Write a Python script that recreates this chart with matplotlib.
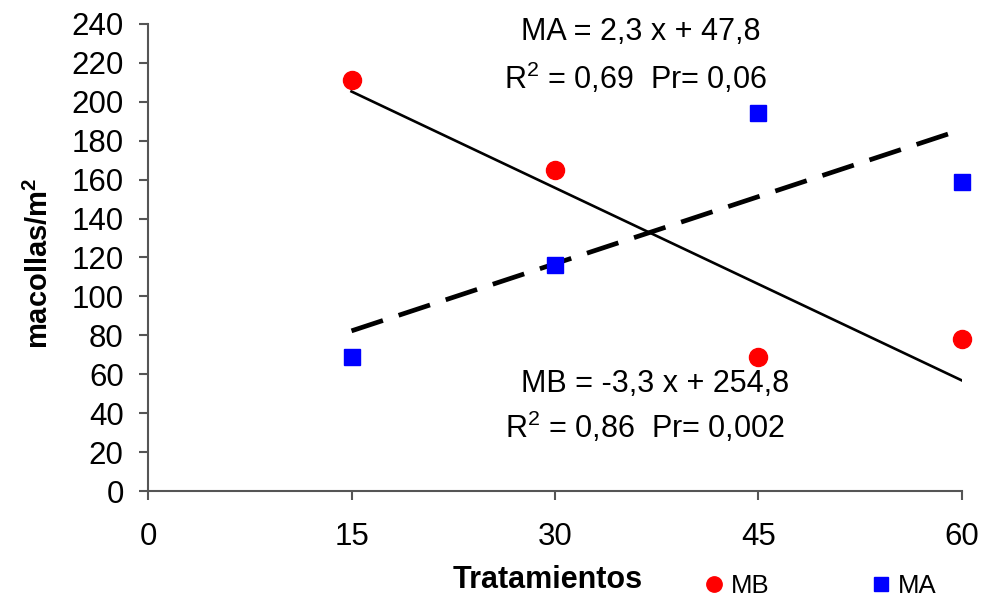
import numpy as np
import matplotlib
matplotlib.use("Agg")
import matplotlib.pyplot as plt

plt.rcParams['font.family'] = ['Liberation Sans', 'DejaVu Sans']
plt.rcParams['mathtext.fontset'] = 'custom'
plt.rcParams['mathtext.rm'] = 'Liberation Sans'
plt.rcParams['mathtext.bf'] = 'Liberation Sans:bold'

# datos
tratamientos = [15, 30, 45, 60]
mb = [211, 165, 69, 78]
ma = [69, 116, 194, 159]

# rectas de regresion (pendiente, ordenada)
mb_coef = (-3.3, 254.8)
ma_coef = (2.3, 47.8)

xticks = [0, 15, 30, 45, 60]
yticks = list(range(0, 241, 20))

fig = plt.figure(figsize=(9.83, 5.98), dpi=100)
ax = fig.add_axes([0.1506, 0.1789, 0.828, 0.781])

x = np.array(tratamientos)
ax.plot(x, mb_coef[0] * x + mb_coef[1], color='black', lw=1.9, zorder=2)
ax.plot(x, ma_coef[0] * x + ma_coef[1], color='black', lw=3.4,
        dashes=(7, 3.5), zorder=2)

h1, = ax.plot(tratamientos, mb, 'o', color='#ff0000', ms=13, ls='none',
              zorder=3, label='MB', clip_on=False)
h2, = ax.plot(tratamientos, ma, 's', color='#0000ff', ms=12, ls='none',
              zorder=3, label='MA', clip_on=False)

ax.set_xlim(0, 60)
ax.set_ylim(0, 240)
ax.set_xticks(xticks)
ax.set_yticks(yticks)

for s in ['top', 'right']:
    ax.spines[s].set_visible(False)
for s in ['left', 'bottom']:
    ax.spines[s].set_color('#555555')
    ax.spines[s].set_linewidth(1.5)
    ax.spines[s].set_zorder(1)

ax.tick_params(axis='both', direction='out', length=6.5, width=1.5,
               color='#555555', labelsize=22.5)
ax.tick_params(axis='x', pad=16)
ax.tick_params(axis='y', pad=11)

ax.set_xlabel('Tratamientos', fontsize=22, fontweight='bold')
ax.xaxis.set_label_coords(0.491, -0.158)
ax.set_ylabel(r'macollas/m$^\mathbf{2}$', fontsize=21, fontweight='bold')
ax.yaxis.set_label_coords(-0.116, 0.488)

ax.text(36.3, 236, 'MA = 2,3 x + 47,8', fontsize=22, ha='center', va='center')
ax.text(35.9, 212, r'R$^2$ = 0,69  Pr= 0,06', fontsize=22, ha='center', va='center')
ax.text(37.4, 55, 'MB = -3,3 x + 254,8', fontsize=22, ha='center', va='center')
ax.text(36.6, 32.5, r'R$^2$ = 0,86  Pr= 0,002', fontsize=22, ha='center', va='center')

fig.legend(handles=[h1, h2], loc='center', bbox_to_anchor=(0.835, 0.02),
           ncol=2, frameon=False, fontsize=18.5, handlelength=0.7,
           handletextpad=0.3, columnspacing=4.0, markerscale=0.85)

fig.savefig('out.png', dpi=100)
